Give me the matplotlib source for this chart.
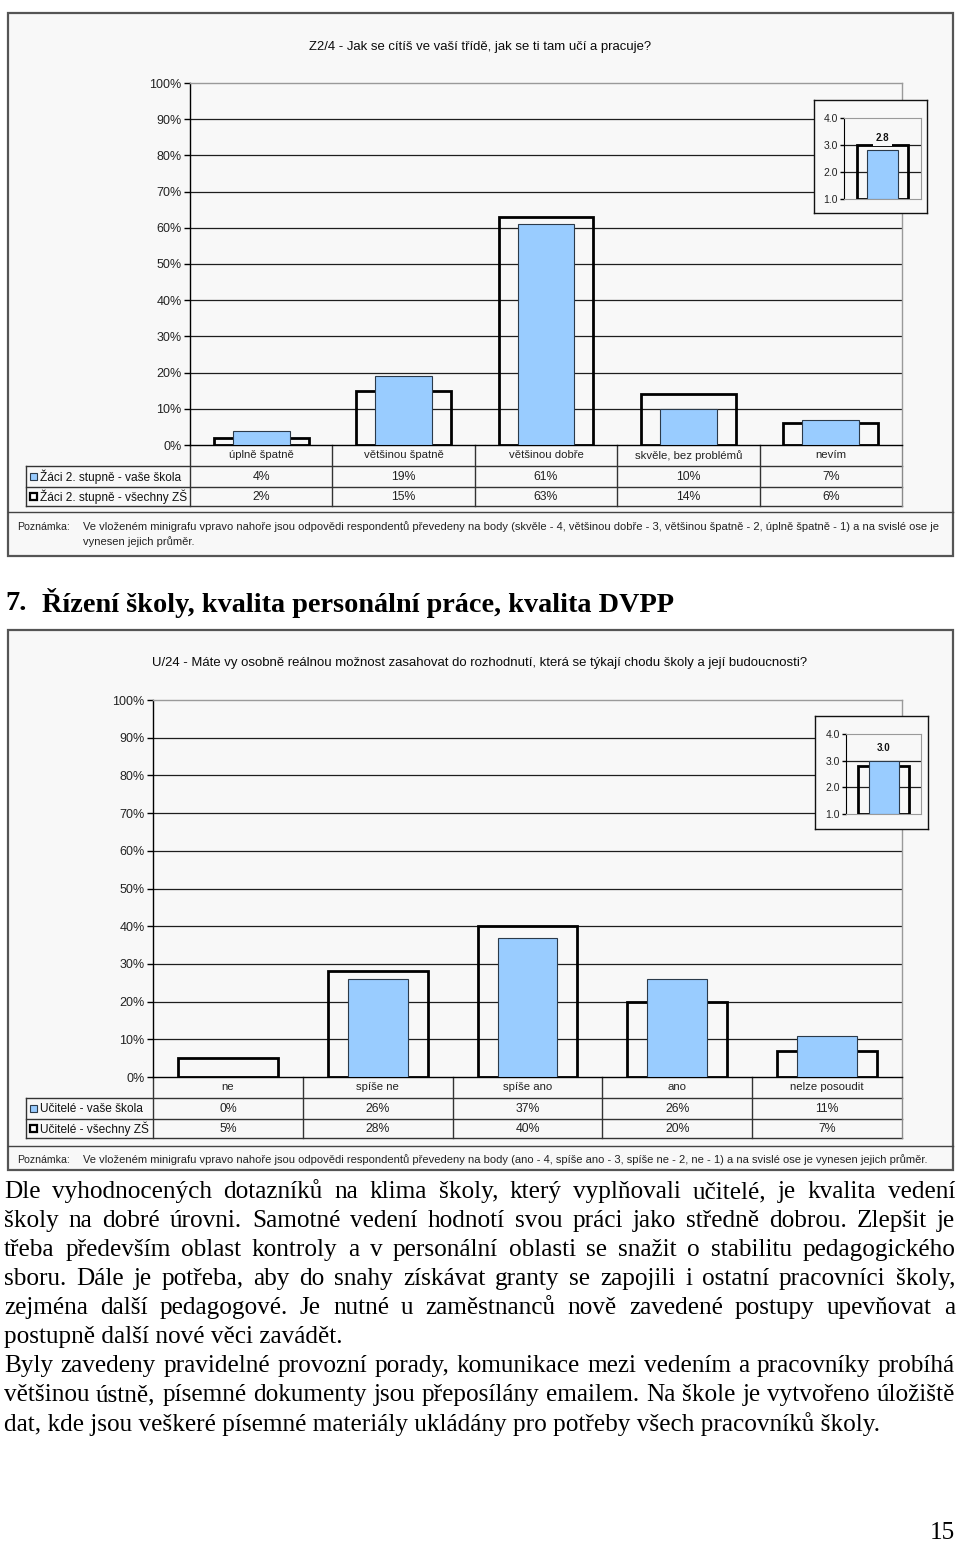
import matplotlib
matplotlib.use('Agg')
import matplotlib.pyplot as plt
from matplotlib.patches import Rectangle
import numpy as np

W, H = 960, 1545
SANS = ['Liberation Sans', 'DejaVu Sans']
SERIF = ['Liberation Serif', 'DejaVu Serif']
plt.rcParams['font.family'] = SANS

# ---------------- data ----------------
title1 = 'Z2/4 - Jak se cítíš ve vaší třídě, jak se ti tam učí a pracuje?'
categories1 = ['úplně špatně', 'většinou špatně', 'většinou dobře', 'skvěle, bez problémů', 'nevím']
series1 = ['Žáci 2. stupně - vaše škola', 'Žáci 2. stupně - všechny ZŠ']
school1 = [4, 19, 61, 10, 7]
all1 = [2, 15, 63, 14, 6]
mean_school1 = 2.8
mean_all1 = 3.0
note1 = ['Ve vloženém minigrafu vpravo nahoře jsou odpovědi respondentů převedeny na body (skvěle - 4, většinou dobře - 3, většinou špatně - 2, úplně špatně - 1) a na svislé ose je',
         'vynesen jejich průměr.']

title2 = 'U/24 - Máte vy osobně reálnou možnost zasahovat do rozhodnutí, která se týkají chodu školy a její budoucnosti?'
categories2 = ['ne', 'spíše ne', 'spíše ano', 'ano', 'nelze posoudit']
series2 = ['Učitelé - vaše škola', 'Učitelé - všechny ZŠ']
school2 = [0, 26, 37, 26, 11]
all2 = [5, 28, 40, 20, 7]
mean_school2 = 3.0
mean_all2 = 2.8
note2 = ['Ve vloženém minigrafu vpravo nahoře jsou odpovědi respondentů převedeny na body (ano - 4, spíše ano - 3, spíše ne - 2, ne - 1) a na svislé ose je vynesen jejich průměr.']

pct_ticks = [0, 10, 20, 30, 40, 50, 60, 70, 80, 90, 100]
mini_ticks = [1.0, 2.0, 3.0, 4.0]

heading_num = '7.'
heading_text = 'Řízení školy, kvalita personální práce, kvalita DVPP'
paragraph = [
    ('Dle vyhodnocených dotazníků na klima školy, který vyplňovali učitelé, je kvalita vedení', True),
    ('školy na dobré úrovni. Samotné vedení hodnotí svou práci jako středně dobrou. Zlepšit je', True),
    ('třeba především oblast kontroly a v personální oblasti se snažit o stabilitu pedagogického', True),
    ('sboru. Dále je potřeba, aby do snahy získávat granty se zapojili i ostatní pracovníci školy,', True),
    ('zejména další pedagogové. Je nutné u zaměstnanců nově zavedené postupy upevňovat a', True),
    ('postupně další nové věci zavádět.', False),
    ('Byly zavedeny pravidelné provozní porady, komunikace mezi vedením a pracovníky probíhá', True),
    ('většinou ústně, písemné dokumenty jsou přeposílány emailem. Na škole je vytvořeno úložiště', True),
    ('dat, kde jsou veškeré písemné materiály ukládány pro potřeby všech pracovníků školy.', False),
]
page_number = '15'

# ---------------- styles ----------------
BLUE = '#99ccff'
FRAME_BG = '#f8f8f8'

fig = plt.figure(figsize=(W / 100, H / 100), dpi=100)
fig.patch.set_facecolor('white')
renderer = fig.canvas.get_renderer()

pax = fig.add_axes([0, 0, 1, 1], zorder=0)
pax.set_xlim(0, W)
pax.set_ylim(H, 0)
pax.axis('off')


def frect(x0, y0, x1, y1):
    return [x0 / W, 1 - y1 / H, (x1 - x0) / W, (y1 - y0) / H]


def text_width(s, fs, family, weight='normal'):
    t = pax.text(0, 0, s, fontsize=fs, family=family, fontweight=weight)
    w = t.get_window_extent(renderer).width
    t.remove()
    return w


def fit_text(s, x0, x1, y, family, weight='normal', color='black', base=10):
    fs = base * (x1 - x0) / text_width(s, base, family, weight)
    pax.text(x0, y, s, fontsize=fs, family=family, fontweight=weight,
             color=color, ha='left', va='center')
    return fs


def justified(s, x0, x1, y, fs, family, justify=True):
    if not justify:
        pax.text(x0, y, s, fontsize=fs, family=family, ha='left', va='center')
        return
    words = s.split(' ')
    widths = [text_width(w, fs, family) for w in words]
    gap = (x1 - x0 - sum(widths)) / (len(words) - 1)
    x = x0
    for w, wd in zip(words, widths):
        pax.text(x, y, w, fontsize=fs, family=family, ha='left', va='center')
        x += wd + gap


def draw_chart(L, title, cats, series, school, allzs, m_school, m_all, notes):
    fx0, fy0, fx1, fy1 = L['frame']
    pax.add_patch(Rectangle((fx0, fy0), fx1 - fx0, fy1 - fy0, facecolor=FRAME_BG,
                            edgecolor='#555555', lw=1.6, zorder=0))
    # title
    fit_text(title, L['title_x'][0], L['title_x'][1], L['title_y'], SANS, color='#0a0a0a')

    # main axes
    px0, py0, px1, py1 = L['plot']
    ax = fig.add_axes(frect(px0, py0, px1, py1), zorder=2)
    ax.set_facecolor('none')
    x = np.arange(len(cats))
    for v in pct_ticks[1:-1]:
        ax.axhline(v, color='#1e1e1e', lw=0.9, zorder=1)
    ax.bar(x, allzs, width=0.667, facecolor='none', edgecolor='black', lw=2.0, zorder=3)
    ax.bar(x, school, width=0.4, color=BLUE, edgecolor='#2b3a4a', lw=0.8, zorder=4)
    ax.set_xlim(-0.5, len(cats) - 0.5)
    ax.set_ylim(0, 100)
    ax.set_xticks([])
    ax.set_yticks(pct_ticks)
    ax.set_yticklabels([f'{v}%' for v in pct_ticks])
    ax.tick_params(axis='y', direction='out', length=4, width=1, pad=2, labelsize=9,
                   labelcolor='#222222')
    for s in ('left', 'bottom'):
        ax.spines[s].set_color('black')
        ax.spines[s].set_linewidth(1.0)
    for s in ('top', 'right'):
        ax.spines[s].set_color('#9a9a9a')
        ax.spines[s].set_linewidth(1.0)

    # data table
    r0, r1, r2, r3 = L['rows']
    lx = L['legend_x0']
    xs = np.linspace(px0, px1, len(cats) + 1)
    lc = '#333333'
    for yy in (r1, r2, r3):
        pax.plot([lx, px1], [yy, yy], color=lc, lw=1.0, zorder=2)
    for i, xx in enumerate(xs):
        c = '#8a8a8a' if i == len(xs) - 1 else lc
        pax.plot([xx, xx], [r0, r3], color=c, lw=1.0, zorder=2)
    pax.plot([lx, lx], [r1, r3], color=lc, lw=1.0, zorder=2)
    for i, c in enumerate(cats):
        cx = (xs[i] + xs[i + 1]) / 2
        pax.text(cx, (r0 + r1) / 2, c, fontsize=8.2, ha='center', va='center', color='#222222')
        pax.text(cx, (r1 + r2) / 2, f'{school[i]}%', fontsize=8.8, ha='center', va='center', color='#222222')
        pax.text(cx, (r2 + r3) / 2, f'{allzs[i]}%', fontsize=8.8, ha='center', va='center', color='#222222')
    # legend keys
    for (ya, yb), name, fc, ec, lw in (((r1, r2), series[0], BLUE, '#2b3a4a', 0.8),
                                       ((r2, r3), series[1], 'white', 'black', 1.6)):
        yc = (ya + yb) / 2
        pax.add_patch(Rectangle((lx + 4, yc - 3.5), 7, 7, facecolor=fc, edgecolor=ec, lw=lw, zorder=3))
        pax.text(lx + 14, yc, name, fontsize=8.6, ha='left', va='center', color='#111111')

    # note
    pax.plot([fx0, fx1], [L['note_sep'], L['note_sep']], color='#444444', lw=1.0, zorder=2)
    pax.text(17, L['note_y'][0], 'Poznámka:', fontsize=7.6, ha='left', va='center', color='#222222')
    fs_note = fit_text(notes[0], 83, L['note_x1'], L['note_y'][0], SANS, color='#222222')
    for s, yy in zip(notes[1:], L['note_y'][1:]):
        pax.text(83, yy, s, fontsize=fs_note, ha='left', va='center', color='#222222')

    # inset mini chart
    bax = fig.add_axes(frect(*L['inset_box']), zorder=3)
    bax.set_facecolor(FRAME_BG)
    bax.set_xticks([])
    bax.set_yticks([])
    for s in bax.spines.values():
        s.set_color('#111111')
        s.set_linewidth(1.0)
    iax = fig.add_axes(frect(*L['inset_plot']), zorder=4)
    iax.set_facecolor('none')
    for v in mini_ticks[1:-1]:
        iax.axhline(v, color='#1e1e1e', lw=0.9, zorder=1)
    iax.bar(0, m_all - 1, bottom=1, width=0.667, facecolor='none', edgecolor='black', lw=2.0, zorder=3)
    iax.bar(0, m_school - 1, bottom=1, width=0.4, color=BLUE, edgecolor='#2b3a4a', lw=0.8, zorder=4)
    iax.set_xlim(-0.5, 0.5)
    iax.set_ylim(1, 4)
    iax.set_xticks([])
    iax.set_yticks(mini_ticks)
    iax.set_yticklabels([f'{v:.1f}' for v in mini_ticks])
    iax.tick_params(axis='y', direction='out', length=3, width=1, pad=1.5, labelsize=7.5,
                    labelcolor='#222222')
    iax.spines['left'].set_color('black')
    for s in ('top', 'right', 'bottom'):
        iax.spines[s].set_color('#9a9a9a')
    iax.text(0, max(m_school, m_all) + L['lab_off'], f'{m_school:.1f}', fontsize=7, fontweight='bold',
             ha='center', va='center', color='#111111', zorder=5,
             bbox=dict(facecolor=FRAME_BG, edgecolor='none', pad=2.0))


L1 = dict(frame=(8, 13, 953, 556), title_x=(309, 652), title_y=47,
          plot=(190, 83, 902, 445), rows=(445, 466, 487, 506), legend_x0=26,
          note_sep=512, note_y=(527, 542), note_x1=934,
          inset_box=(814, 100, 927, 213), inset_plot=(844, 118, 921, 199), lab_off=0.25)
L2 = dict(frame=(8, 630, 953, 1170), title_x=(152, 810), title_y=663,
          plot=(153, 700, 902, 1077), rows=(1077, 1098, 1119, 1138), legend_x0=26,
          note_sep=1146, note_y=(1160,), note_x1=923,
          inset_box=(815, 716, 928, 829), inset_plot=(846, 734, 921, 814), lab_off=0.48)

draw_chart(L1, title1, categories1, series1, school1, all1, mean_school1, mean_all1, note1)
draw_chart(L2, title2, categories2, series2, school2, all2, mean_school2, mean_all2, note2)

# heading
fs_head = fit_text(heading_text, 42, 676, 603, SERIF, weight='bold', base=16)
pax.text(5, 603, heading_num, fontsize=fs_head, family=SERIF, fontweight='bold', ha='left', va='center')

# paragraph
fs_par = 16 * 874 / text_width(paragraph[-1][0], 16, SERIF)
y = 1192
for line, just in paragraph:
    justified(line, 4, 955, y, fs_par, SERIF, just)
    y += 29

pax.text(955, 1533, page_number, fontsize=fs_par, family=SERIF, ha='right', va='center')

fig.savefig('out.png', dpi=100, facecolor='white')
